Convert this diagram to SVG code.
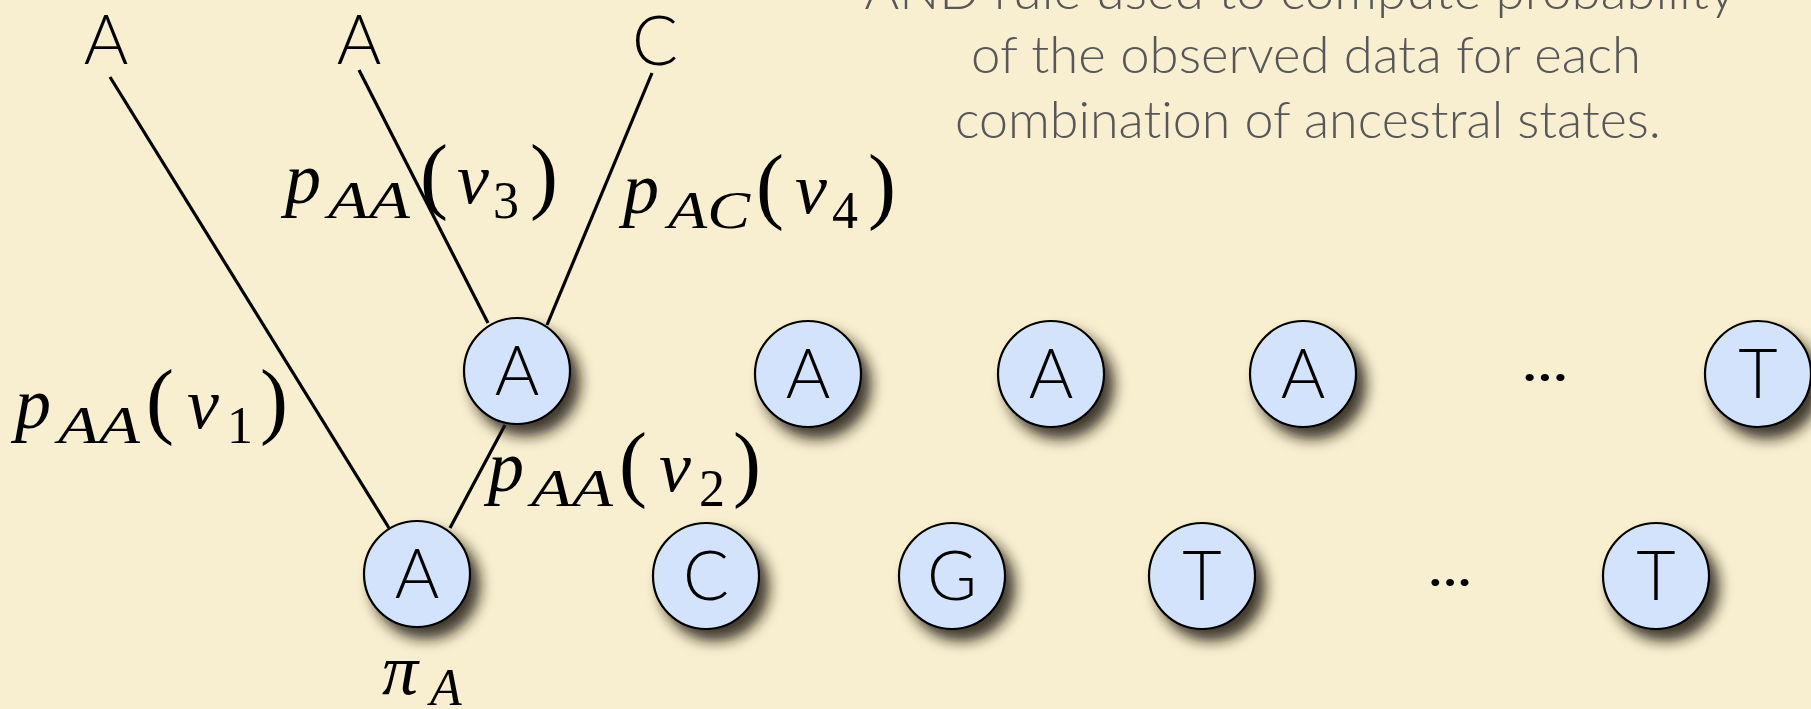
<svg xmlns="http://www.w3.org/2000/svg" width="1811" height="709" viewBox="0 0 1811 709">
<defs>
<style>
.bg{fill:#f8efd0}
.node{fill:#d3e3fb;stroke:#000;stroke-width:2.2}
.lbl{font-family:Lato,"Open Sans","DejaVu Sans",sans-serif;font-weight:300;font-size:68px;fill:#000;text-anchor:middle}
.note{font-family:Lato,"Open Sans","DejaVu Sans",sans-serif;font-weight:300;font-size:52px;fill:#575757;text-anchor:middle;font-variant-ligatures:none;font-feature-settings:"liga" 0}
.dots{font-family:Lato,"DejaVu Sans",sans-serif;font-size:56px;fill:#000;text-anchor:middle}
.edge{stroke:#000;stroke-width:3.2;fill:none;stroke-linecap:butt}
.m{font-family:"Liberation Serif","Times New Roman",serif;fill:#000}
.mi{font-style:italic;font-size:72px}
.ms{font-style:italic;font-size:52px}
.mp{font-style:normal;font-size:84px}
.md{font-style:normal;font-size:52px}
</style>
<filter id="sh" x="-50%" y="-50%" width="210%" height="210%">
<feDropShadow dx="9" dy="11" stdDeviation="7" flood-color="#1e1608" flood-opacity="0.85"/>
</filter>
</defs>
<rect class="bg" x="0" y="0" width="1811" height="709"/>

<g id="note">
<text class="note" x="1300" y="9" textLength="871" lengthAdjust="spacingAndGlyphs">AND rule used to compute probability</text>
<text class="note" x="1306" y="73" textLength="670" lengthAdjust="spacingAndGlyphs">of the observed data for each</text>
<text class="note" x="1308" y="138" textLength="706" lengthAdjust="spacingAndGlyphs">combination of ancestral states.</text>
</g>

<g id="connectors">
<line class="edge" x1="110" y1="77" x2="389" y2="528"/>
<line class="edge" x1="359" y1="70" x2="488" y2="323"/>
<line class="edge" x1="652" y1="73" x2="547" y2="325"/>
<line class="edge" x1="505" y1="425" x2="450" y2="528"/>
</g>

<g id="tip1"><text class="lbl" x="106" y="64">A</text></g>
<g id="tip2"><text class="lbl" x="359" y="64">A</text></g>
<g id="tip3"><text class="lbl" x="655" y="65">C</text></g>

<g id="node-r1-1"><circle class="node" filter="url(#sh)" cx="517" cy="371" r="53"/><text class="lbl" x="517" y="395">A</text></g>
<g id="node-r1-2"><circle class="node" filter="url(#sh)" cx="808" cy="374" r="53"/><text class="lbl" x="808" y="398">A</text></g>
<g id="node-r1-3"><circle class="node" filter="url(#sh)" cx="1051" cy="374" r="53"/><text class="lbl" x="1051" y="398">A</text></g>
<g id="node-r1-4"><circle class="node" filter="url(#sh)" cx="1303" cy="374" r="53"/><text class="lbl" x="1303" y="398">A</text></g>
<g id="node-r1-5"><circle class="node" filter="url(#sh)" cx="1758" cy="374" r="53"/><text class="lbl" x="1758" y="398">T</text></g>
<g id="dots-r1"><text class="dots" x="1545" y="381" textLength="46" lengthAdjust="spacingAndGlyphs">...</text></g>

<g id="node-r2-1"><circle class="node" filter="url(#sh)" cx="417" cy="574" r="53"/><text class="lbl" x="417" y="598">A</text></g>
<g id="node-r2-2"><circle class="node" filter="url(#sh)" cx="706" cy="576" r="53"/><text class="lbl" x="706" y="600">C</text></g>
<g id="node-r2-3"><circle class="node" filter="url(#sh)" cx="952" cy="576" r="53"/><text class="lbl" x="952" y="600">G</text></g>
<g id="node-r2-4"><circle class="node" filter="url(#sh)" cx="1202" cy="576" r="53"/><text class="lbl" x="1202" y="600">T</text></g>
<g id="node-r2-5"><circle class="node" filter="url(#sh)" cx="1656" cy="576" r="53"/><text class="lbl" x="1656" y="600">T</text></g>
<g id="dots-r2"><text class="dots" x="1450" y="586" textLength="44" lengthAdjust="spacingAndGlyphs">...</text></g>

<g id="labels">
<text class="m" y="428"><tspan class="mi" x="15">p</tspan><tspan class="ms" x="58" y="443" textLength="82" lengthAdjust="spacingAndGlyphs">AA</tspan><tspan class="mp" x="146" y="428">(</tspan><tspan class="mi" x="187">v</tspan><tspan class="md" x="227" y="443">1</tspan><tspan class="mp" x="260" y="428">)</tspan></text>
<text class="m" y="491"><tspan class="mi" x="488">p</tspan><tspan class="ms" x="531" y="506" textLength="82" lengthAdjust="spacingAndGlyphs">AA</tspan><tspan class="mp" x="619" y="491">(</tspan><tspan class="mi" x="659">v</tspan><tspan class="md" x="699" y="506">2</tspan><tspan class="mp" x="733" y="491">)</tspan></text>
<text class="m" y="203"><tspan class="mi" x="285">p</tspan><tspan class="ms" x="328" y="218" textLength="82" lengthAdjust="spacingAndGlyphs">AA</tspan><tspan class="mp" x="420" y="203">(</tspan><tspan class="mi" x="457">v</tspan><tspan class="md" x="493" y="218">3</tspan><tspan class="mp" x="530" y="203">)</tspan></text>
<text class="m" y="213"><tspan class="mi" x="623">p</tspan><tspan class="ms" x="668" y="228" textLength="82" lengthAdjust="spacingAndGlyphs">AC</tspan><tspan class="mp" x="756" y="213">(</tspan><tspan class="mi" x="795">v</tspan><tspan class="md" x="832" y="228">4</tspan><tspan class="mp" x="868" y="213">)</tspan></text>
<text class="m" y="694"><tspan class="mi" x="382">π</tspan><tspan class="ms" x="430" y="705">A</tspan></text>
</g>
</svg>
